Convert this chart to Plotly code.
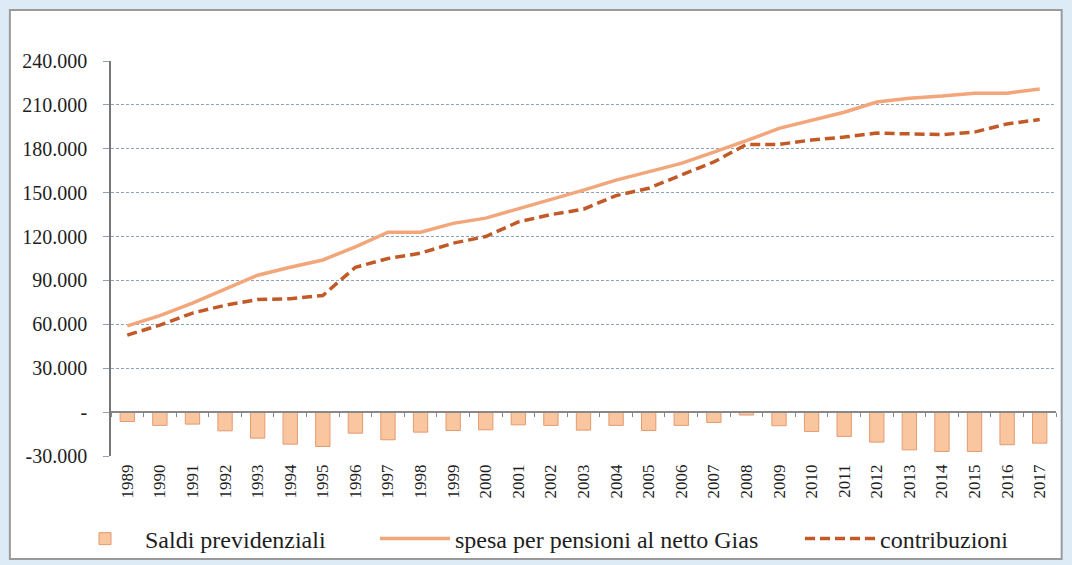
import plotly.graph_objects as go

years = [1989, 1990, 1991, 1992, 1993, 1994, 1995, 1996, 1997, 1998,
         1999, 2000, 2001, 2002, 2003, 2004, 2005, 2006, 2007, 2008,
         2009, 2010, 2011, 2012, 2013, 2014, 2015, 2016, 2017]

saldi = [-6400, -9100, -8200, -12800, -17800, -21900, -23500, -14400, -18900, -13700,
         -12600, -12100, -8700, -9100, -12300, -9100, -12600, -9100, -7100, -2000,
         -9300, -13200, -16600, -20500, -25800, -26900, -26900, -22300, -21200]

spesa = [59000, 66000, 74500, 84000, 93600, 99000, 104000, 113000, 123000, 123000,
         129000, 132600, 139000, 145000, 151700, 158600, 164000, 170000, 177700, 185500,
         194000, 199600, 205000, 212000, 214600, 216000, 218000, 218000, 220800]

contribuzioni = [52600, 59500, 67700, 73000, 77000, 77500, 79700, 99000, 105000, 108600,
                 115500, 120000, 130000, 135000, 138700, 148000, 153000, 162000, 171000, 183000,
                 183000, 186000, 188000, 190700, 190000, 189700, 191400, 197000, 200000]

y_ticks = [-30000, 0, 30000, 60000, 90000, 120000, 150000, 180000, 210000, 240000]
y_labels = ["-30.000", "-", "30.000", "60.000", "90.000", "120.000",
            "150.000", "180.000", "210.000", "240.000"]

boundaries = [y - 0.5 for y in years] + [years[-1] + 0.5]

SERIF = "'Liberation Serif', 'Times New Roman', serif"
TEXT = "#1E1E1E"

fig = go.Figure()

fig.add_trace(go.Bar(
    x=years, y=saldi, name="Saldi previdenziali", legend="legend",
    width=0.44,
    marker=dict(color="#F9C6A0", line=dict(color="#E39B70", width=1)),
))
fig.add_trace(go.Scatter(
    x=years, y=spesa, name="spesa per pensioni al netto Gias", legend="legend2",
    mode="lines", line=dict(color="#F2A67A", width=3.5),
))
fig.add_trace(go.Scatter(
    x=years, y=contribuzioni, name="contribuzioni", legend="legend3",
    mode="lines", line=dict(color="#C25A27", width=3.5, dash="10px,5px"),
))

# outer frame: light blue background with white inner card
fig.add_shape(
    type="rect", xref="paper", yref="paper",
    x0=-0.107, x1=1.006, y0=-0.261, y1=1.129,
    fillcolor="white", line=dict(color="#9A9A9A", width=2), layer="below",
)

legend_common = dict(
    orientation="h", xref="container", yref="container",
    xanchor="left", y=0.046, yanchor="middle",
    font=dict(size=24, family=SERIF, color=TEXT),
    bgcolor="rgba(0,0,0,0)", itemwidth=70,
)

fig.update_layout(
    width=1072, height=565,
    paper_bgcolor="#DDEBF7",
    plot_bgcolor="rgba(0,0,0,0)",
    margin=dict(l=111, r=16, t=61, b=109),
    font=dict(family=SERIF, color=TEXT, size=17),
    showlegend=True,
    legend=dict(legend_common, x=65 / 1072),
    legend2=dict(legend_common, x=375 / 1072),
    legend3=dict(legend_common, x=800 / 1072),
    bargap=0.56,
    xaxis=dict(
        range=[years[0] - 0.5, years[-1] + 0.5],
        tickvals=years, ticktext=[str(y) for y in years],
        tickangle=-90, ticks="", showline=False, showgrid=False, zeroline=False,
        tickfont=dict(size=17, family=SERIF, color=TEXT),
        ticklabelstandoff=4,
    ),
    xaxis2=dict(
        overlaying="x", anchor="free", position=1 / 9, side="bottom",
        range=[years[0] - 0.5, years[-1] + 0.5],
        tickvals=boundaries, showticklabels=False,
        ticks="outside", ticklen=4, tickcolor="#888888",
        showline=True, linecolor="#888888", linewidth=1.5,
        showgrid=False, zeroline=False,
    ),
    yaxis=dict(
        range=[-30000, 240000],
        tickvals=y_ticks, ticktext=y_labels,
        showline=True, linecolor="#777777", linewidth=1.5,
        ticks="outside", ticklen=6, tickcolor="#8DA3BA",
        showgrid=True, gridcolor="#8DA3BA", gridwidth=1, griddash="3px,2px",
        zeroline=False,
        tickfont=dict(size=20, family=SERIF, color=TEXT),
        ticklabelstandoff=12,
    ),
)

# invisible trace so the secondary x axis (the zero line with boundary ticks) renders
fig.add_trace(go.Scatter(
    x=[years[0]], y=[0], xaxis="x2", mode="markers",
    marker=dict(opacity=0), showlegend=False, hoverinfo="skip",
))

fig.write_html(
    "out.html",
    config=dict(displayModeBar=False),
    post_script="document.body.style.margin='0px';",
)
